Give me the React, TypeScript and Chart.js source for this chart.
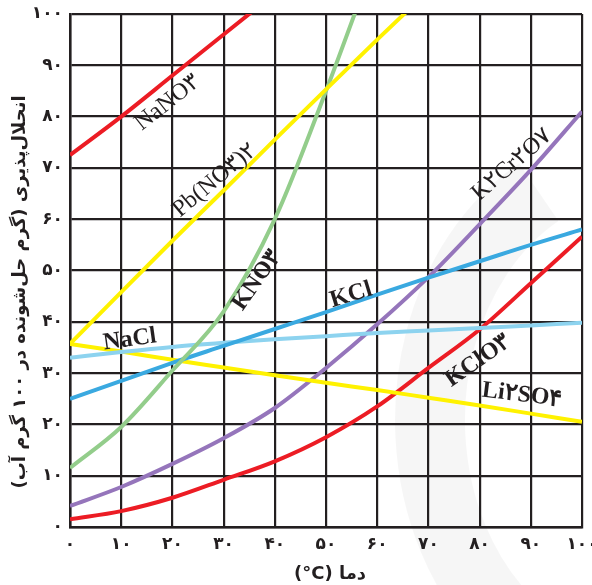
import React, { useEffect, useRef } from 'react';
import { Chart, registerables } from 'chart.js';
Chart.register(...registerables);

// temperature (°C)
const temperatures = [0, 10, 20, 30, 40, 50, 60, 70, 80, 90, 100];

// solubility (g solute / 100 g water)
const nano3 = [72.5, 80, 88, 96, 104, null, null, null, null, null, null];
const pbNo32 = [35.7, 45.8, 55.8, 65.6, 75.5, 85.3, 95, 104.5, null, null, null];
const kno3 = [11.5, 19.5, 30.5, 42, 60, 85, 112, null, null, null, null];
const kcl = [25, 28.5, 32, 35.3, 38.6, 41.9, 45.3, 48.6, 51.8, 55, 58];
const nacl = [33, 34.1, 35.1, 35.9, 36.6, 37.2, 37.8, 38.3, 38.8, 39.3, 39.8];
const li2so4 = [35.7, 34.2, 32.6, 31.1, 29.6, 28.1, 26.7, 25.2, 23.7, 22.1, 20.5];
const k2cr2o7 = [4.1, 7.8, 12.3, 17.3, 23.2, 31, 39.5, 48.7, 59, 69.6, 81];
const kclo3 = [1.5, 3.1, 5.7, 9.2, 12.8, 17.5, 23.5, 31, 38.5, 47.5, 56.6];

const seriesNames = ['NaNO۳', 'Pb(NO۳)۲', 'KNO۳', 'KCl', 'NaCl', 'Li۲SO۴', 'K۲Cr۲O۷', 'KClO۳'];
const seriesValues = [nano3, pbNo32, kno3, kcl, nacl, li2so4, k2cr2o7, kclo3];
const seriesColors = ['#ec1c24', '#fff200', '#93cd8b', '#3aa9e0', '#8dd3ef', '#fff200', '#9575bb', '#ec1c24'];

// curve label annotations (data coordinates)
const curveLabels = [
  { text: 'NaNO۳', x: 19.1, y: 82.7, angle: -38, bold: false },
  { text: 'Pb(NO۳)۲', x: 28.3, y: 67.6, angle: -40, bold: false },
  { text: 'KNO۳', x: 36.5, y: 48.1, angle: -55, bold: true },
  { text: 'KCl', x: 54.9, y: 45.2, angle: -17, bold: true },
  { text: 'NaCl', x: 11.7, y: 36.5, angle: -8, bold: true },
  { text: 'K۲Cr۲O۷', x: 86.3, y: 70.6, angle: -41, bold: false },
  { text: 'KClO۳', x: 79.7, y: 32.4, angle: -35, bold: true },
  { text: 'Li۲SO۴', x: 88.3, y: 25.7, angle: 7, bold: true },
];

const xTitle = 'دما (\u200E°C)';
const yTitle = 'انحلال‌پذیری (گرم حل‌شونده در ۱۰۰ گرم آب)';

const toPersian = (v: number | string) =>
  String(v).replace(/\d/g, (d) => '۰۱۲۳۴۵۶۷۸۹'[Number(d)]);

const decorPlugin = {
  id: 'decor',
  beforeDraw(chart: any) {
    const ctx = chart.ctx;
    ctx.save();
    ctx.strokeStyle = 'rgba(0,0,0,0.035)';
    ctx.lineWidth = 70;
    ctx.beginPath();
    ctx.ellipse(640, 420, 210, 260, 0, Math.PI * 0.6, Math.PI * 1.34);
    ctx.stroke();
    ctx.restore();
  },
  afterDatasetsDraw(chart: any) {
    const ctx = chart.ctx;
    const xs = chart.scales.x;
    const ys = chart.scales.y;
    ctx.save();
    ctx.fillStyle = '#231f20';
    ctx.textAlign = 'center';
    ctx.textBaseline = 'middle';
    curveLabels.forEach((l) => {
      ctx.save();
      ctx.translate(xs.getPixelForValue(l.x), ys.getPixelForValue(l.y));
      ctx.rotate((l.angle * Math.PI) / 180);
      ctx.font = `${l.bold ? 'bold ' : ''}24px "Liberation Serif", "Times New Roman", serif`;
      ctx.fillText(l.text, 0, 0);
      ctx.restore();
    });
    ctx.restore();
  },
  afterDraw(chart: any) {
    const ctx = chart.ctx;
    const area = chart.chartArea;
    ctx.save();
    ctx.fillStyle = '#231f20';
    ctx.textAlign = 'center';
    ctx.textBaseline = 'middle';
    ctx.direction = 'rtl';
    ctx.font = 'bold 18px "DejaVu Sans", sans-serif';
    ctx.fillText(xTitle, (area.left + area.right) / 2 + 4, 574);
    ctx.translate(20, 292);
    ctx.rotate(-Math.PI / 2);
    ctx.fillText(yTitle, 0, 0);
    ctx.restore();
  },
};

export default function App() {
  const ref = useRef<HTMLCanvasElement>(null);
  useEffect(() => {
    if (!ref.current) return;
    const chart = new Chart(ref.current, {
      type: 'line',
      data: {
        datasets: seriesNames.map((name, i) => ({
          label: name,
          data: temperatures.map((t, j) => ({ x: t, y: seriesValues[i][j] })),
          borderColor: seriesColors[i],
          backgroundColor: seriesColors[i],
          borderWidth: 4,
          pointRadius: 0,
          cubicInterpolationMode: 'monotone',
          spanGaps: false,
          fill: false,
        })),
      },
      options: {
        animation: false,
        responsive: false,
        layout: { autoPadding: false, padding: { left: 0, right: 10, top: 14, bottom: 0 } },
        plugins: { legend: { display: false }, tooltip: { enabled: false } },
        scales: {
          x: {
            type: 'linear',
            min: 0,
            max: 100,
            afterFit: (s: any) => { s.height = 58; s.paddingLeft = 0; s.paddingRight = 0; },
            grid: { color: '#231f20', lineWidth: 2.2, drawTicks: false },
            border: { color: '#231f20', width: 2.5 },
            ticks: {
              stepSize: 10,
              padding: 7,
              maxRotation: 0,
              color: '#231f20',
              font: { family: '"DejaVu Sans", sans-serif', size: 17, weight: 'bold' },
              callback: (v: any) => toPersian(v),
            },
          },
          y: {
            type: 'linear',
            min: 0,
            max: 100,
            afterFit: (s: any) => { s.width = 70; s.paddingTop = 0; s.paddingBottom = 0; },
            grid: { color: '#231f20', lineWidth: 2.2, drawTicks: false },
            border: { color: '#231f20', width: 2.5 },
            ticks: {
              stepSize: 10,
              padding: 7,
              color: '#231f20',
              font: { family: '"DejaVu Sans", sans-serif', size: 17, weight: 'bold' },
              callback: (v: any) => toPersian(v),
            },
          },
        },
      },
      plugins: [decorPlugin],
    } as any);
    return () => chart.destroy();
  }, []);
  return (
    <div style={{ position: 'absolute', left: 0, top: 0, width: 592, height: 585, background: '#fff' }}>
      <canvas ref={ref} width={592} height={585} style={{ display: 'block' }} />
    </div>
  );
}
